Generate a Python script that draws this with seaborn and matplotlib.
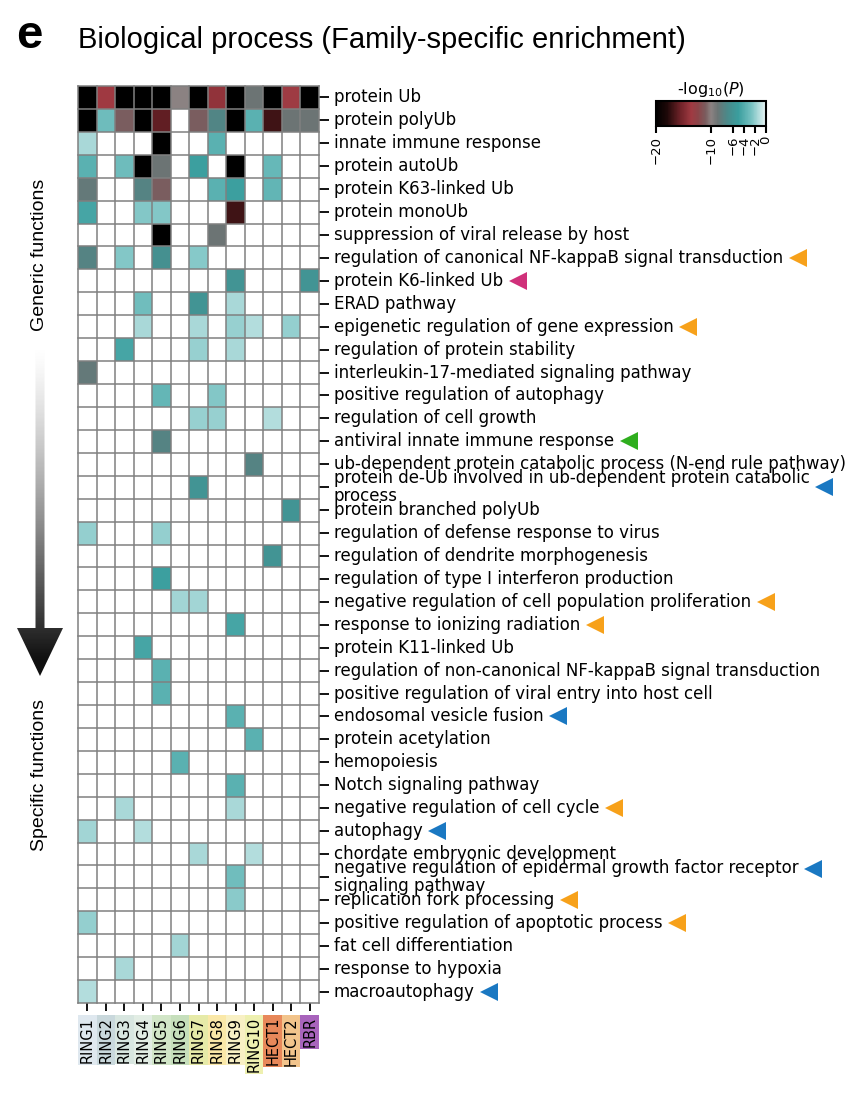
import numpy as np
import pandas as pd
import matplotlib
matplotlib.use('Agg')
import matplotlib.pyplot as plt
import seaborn as sns
from matplotlib.colors import LinearSegmentedColormap
from matplotlib.patches import Polygon

N = np.nan

processes = [
    "protein Ub",
    "protein polyUb",
    "innate immune response",
    "protein autoUb",
    "protein K63-linked Ub",
    "protein monoUb",
    "suppression of viral release by host",
    "regulation of canonical NF-kappaB signal transduction",
    "protein K6-linked Ub",
    "ERAD pathway",
    "epigenetic regulation of gene expression",
    "regulation of protein stability",
    "interleukin-17-mediated signaling pathway",
    "positive regulation of autophagy",
    "regulation of cell growth",
    "antiviral innate immune response",
    "ub-dependent protein catabolic process (N-end rule pathway)",
    "protein de-Ub involved in ub-dependent protein catabolic\nprocess",
    "protein branched polyUb",
    "regulation of defense response to virus",
    "regulation of dendrite morphogenesis",
    "regulation of type I interferon production",
    "negative regulation of cell population proliferation",
    "response to ionizing radiation",
    "protein K11-linked Ub",
    "regulation of non-canonical NF-kappaB signal transduction",
    "positive regulation of viral entry into host cell",
    "endosomal vesicle fusion",
    "protein acetylation",
    "hemopoiesis",
    "Notch signaling pathway",
    "negative regulation of cell cycle",
    "autophagy",
    "chordate embryonic development",
    "negative regulation of epidermal growth factor receptor\nsignaling pathway",
    "replication fork processing",
    "positive regulation of apoptotic process",
    "fat cell differentiation",
    "response to hypoxia",
    "macroautophagy",
]

families = ["RING1", "RING2", "RING3", "RING4", "RING5", "RING6", "RING7",
            "RING8", "RING9", "RING10", "HECT1", "HECT2", "RBR"]

# -log10(P) values (negative scale), one list per family, rows as in `processes`
RING1 = [-20, -20, -1.5, -3.8, -8.4, -4.6, N, -7.6, N, N,
         N, N, -8.4, N, N, N, N, N, N, -2.0,
         N, N, N, N, N, N, N, N, N, N,
         N, N, -1.7, N, N, N, -2.0, N, N, -1.3]
RING2 = [-13.6, -3.0, N, N, N, N, N, N, N, N,
         N, N, N, N, N, N, N, N, N, N,
         N, N, N, N, N, N, N, N, N, N,
         N, N, N, N, N, N, N, N, N, N]
RING3 = [-20, -11, N, -3.0, N, N, N, -2.4, N, N,
         N, -4.6, N, N, N, N, N, N, N, N,
         N, N, N, N, N, N, N, N, N, N,
         N, -1.5, N, N, N, N, N, N, -1.5, N]
RING4 = [-20, -20, N, -20, -7.6, -2.4, N, N, N, -2.9,
         -1.5, N, N, N, N, N, N, N, N, N,
         N, N, N, N, -4.6, N, N, N, N, N,
         N, N, -1.3, N, N, N, N, N, N, N]
RING5 = [-20, -16, -20, -8.8, -11, -2.4, -20, -6.4, N, N,
         N, N, N, -3.4, N, -7.6, N, N, N, -2.0,
         N, -5.0, N, N, N, -3.8, -3.8, N, N, N,
         N, N, N, N, N, N, N, N, N, N]
RING6 = [-10, N, N, N, N, N, N, N, N, N,
         N, N, N, N, N, N, N, N, N, N,
         N, N, -1.7, N, N, N, N, N, N, -3.8,
         N, N, N, N, N, N, N, -1.7, N, N]
RING7 = [-20, -11, N, -5.0, N, N, N, -2.3, N, -6.0,
         -1.5, -1.9, N, N, -1.9, N, N, -6.0, N, N,
         N, N, -1.7, N, N, N, N, N, N, N,
         N, N, N, -1.5, N, N, N, N, N, N]
RING8 = [-14.2, -7.4, -3.8, N, -3.8, N, -8.8, N, N, N,
         N, N, N, -2.4, -1.9, N, N, N, N, N,
         N, N, N, N, N, N, N, N, N, N,
         N, N, N, N, N, N, N, N, N, N]
RING9 = [-20, -20, N, -20, -5.0, -17, N, N, -6.0, -1.5,
         -1.9, -1.5, N, N, N, N, N, N, N, N,
         N, N, N, -4.6, N, N, N, -3.8, N, N,
         -3.8, -1.5, N, N, -2.9, -2.2, N, N, N, N]
RING10 = [-8.8, -3.8, N, N, N, N, N, N, N, N,
          -1.3, N, N, N, N, N, -7.6, N, N, N,
          N, N, N, N, N, N, N, N, -3.8, N,
          N, N, N, -1.3, N, N, N, N, N, N]
HECT1 = [-20, -17, N, -3.3, -3.5, N, N, N, N, N,
         N, N, N, N, -1.3, N, N, N, N, N,
         -6.0, N, N, N, N, N, N, N, N, N,
         N, N, N, N, N, N, N, N, N, N]
HECT2 = [-13.5, -8.8, N, N, N, N, N, N, N, N,
         -2.0, N, N, N, N, N, N, N, -6.0, N,
         N, N, N, N, N, N, N, N, N, N,
         N, N, N, N, N, N, N, N, N, N]
RBR = [-20, -8.8, N, N, N, N, N, N, -6.0, N,
       N, N, N, N, N, N, N, N, N, N,
       N, N, N, N, N, N, N, N, N, N,
       N, N, N, N, N, N, N, N, N, N]

family_colors = ["#dfe8ef", "#c9d8dc", "#d8e6e0", "#e2ede4", "#d2e6c8", "#c6dfbc",
                 "#e6eaa8", "#fae8a8", "#f8f0c4", "#eef0b0", "#e8885a", "#f2c48c",
                 "#a864bc"]

marker_rows = [7, 8, 10, 15, 17, 22, 23, 27, 31, 32, 34, 35, 36, 39]
marker_colors = ["#f7a11a", "#d0307a", "#f7a11a", "#2fae1e", "#1a78c2", "#f7a11a",
                 "#f7a11a", "#1a78c2", "#f7a11a", "#1a78c2", "#1a78c2", "#f7a11a",
                 "#f7a11a", "#1a78c2"]

cbar_ticks = [-20, -10, -6, -4, -2, 0]

df = pd.DataFrame({f: v for f, v in zip(
    families, [RING1, RING2, RING3, RING4, RING5, RING6, RING7, RING8, RING9,
               RING10, HECT1, HECT2, RBR])}, index=processes)

W, H = 848, 1100
fig = plt.figure(figsize=(W / 100, H / 100), dpi=100)

def fax(x0, y0, x1, y1, **kw):
    return fig.add_axes([x0 / W, 1 - y1 / H, (x1 - x0) / W, (y1 - y0) / H], **kw)

ax = fax(78, 86, 319, 1003)
cax = fax(656, 101, 766, 126)

cmap = LinearSegmentedColormap.from_list("enr", [
    (0.00, "#000000"), (0.10, "#1e0808"), (0.22, "#6e2228"), (0.32, "#a03a42"),
    (0.38, "#8c4448"), (0.45, "#7a5c5e"), (0.50, "#8c8282"), (0.56, "#6c7474"),
    (0.65, "#4a8a8a"), (0.75, "#3a9e9e"), (0.87, "#78c2c2"), (1.00, "#eaf6f6")])

sns.heatmap(df, ax=ax, cmap=cmap, vmin=-20, vmax=0, cbar_ax=cax,
            cbar_kws=dict(orientation="horizontal", ticks=cbar_ticks),
            xticklabels=families, yticklabels=processes, linewidths=0)

ax.set_facecolor("white")
for i in range(len(processes) + 1):
    ax.axhline(i, color="#808080", lw=1.1, clip_on=False, zorder=3)
for j in range(len(families) + 1):
    ax.axvline(j, color="#808080", lw=1.1, clip_on=False, zorder=3)

ax.yaxis.tick_right()
ax.tick_params(axis="y", left=False, right=True, labelleft=False, labelright=True,
               length=7, width=1.3, pad=3.5, labelsize=12, labelrotation=0)
ax.tick_params(axis="x", length=6, width=1.3, pad=4, labelsize=10.5, labelrotation=90)
for lbl in ax.get_yticklabels():
    lbl.set_rotation(0)
    lbl.set_va("center")
    lbl.set_linespacing(1.0)
for lbl, c in zip(ax.get_xticklabels(), family_colors):
    lbl.set_rotation(90)
    lbl.set_va("top")
    lbl.set_ha("center")
    lbl.set_bbox(dict(facecolor=c, edgecolor="none", boxstyle="square,pad=0.12"))
ax.set_xlabel("")
ax.set_ylabel("")

cbar = ax.collections[0].colorbar
cbar.outline.set_linewidth(1.5)
cbar.outline.set_edgecolor("black")
cax.tick_params(axis="x", labelsize=9.5, labelrotation=90, length=5, width=1.5, pad=2)
cax.set_title("-log$_{10}$($P$)", fontsize=11.5, pad=5)

# Overlay axes in pixel coordinates for the direction arrow and markers
ov = fig.add_axes([0, 0, 1, 1], zorder=5)
ov.set_xlim(0, W)
ov.set_ylim(H, 0)
ov.axis("off")
ov.patch.set_alpha(0)

grad = np.linspace(0.0, 1.0, 256) ** 1.3
grad = np.clip(grad, 0, 0.93).reshape(-1, 1)
im = ov.imshow(grad, cmap="gray_r", vmin=0, vmax=1, extent=[17, 63, 676, 345],
               aspect="auto", interpolation="bilinear")
arrow_poly = Polygon([(35.5, 345), (44.5, 345), (44.5, 628), (63, 628), (40, 676),
                      (17, 628), (35.5, 628)], closed=True, transform=ov.transData,
                     facecolor="none", edgecolor="none")
ov.add_patch(arrow_poly)
im.set_clip_path(arrow_poly)
ov.set_xlim(0, W)
ov.set_ylim(H, 0)

fig.text(40 / W, 1 - 255 / H, "Generic functions", rotation=90, ha="center",
         va="center", fontsize=14, family="Liberation Sans")
fig.text(40 / W, 1 - 775 / H, "Specific functions", rotation=90, ha="center",
         va="center", fontsize=14, family="Liberation Sans")
fig.text(16 / W, 1 - 36 / H, "e", fontsize=34, fontweight="bold", ha="left",
         va="center", family="Liberation Sans")
fig.text(78 / W, 1 - 40 / H, "Biological process (Family-specific enrichment)",
         fontsize=21, ha="left", va="center", family="Liberation Sans")

fig.canvas.draw()
renderer = fig.canvas.get_renderer()
ylabels = ax.get_yticklabels()
inv = ov.transData.inverted()
for r, c in zip(marker_rows, marker_colors):
    bb = ylabels[r].get_window_extent(renderer)
    yd = ax.transData.transform((0, r + 0.5))[1]
    if "\n" in processes[r] and r > 20:
        yd = yd + 8
    px, py = inv.transform((bb.x1 + 15, yd))
    ov.plot([px], [py], marker="<", markersize=12.5, color=c, markeredgewidth=0,
            linestyle="none", clip_on=False)

fig.savefig("out.png", dpi=100)
